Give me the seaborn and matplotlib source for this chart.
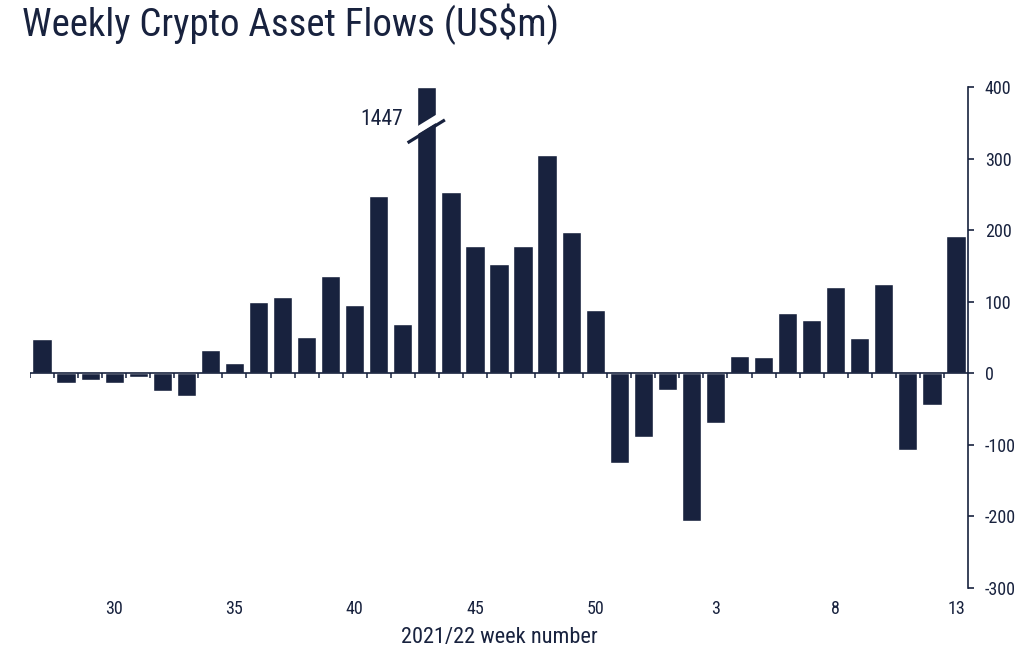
import numpy as np
import pandas as pd
import matplotlib
matplotlib.use("Agg")
import matplotlib.pyplot as plt
import seaborn as sns

# weekly flows, US$m (week 43 of 2021 goes off the scale)
weeks = list(range(27, 53)) + list(range(1, 14))
flows = [48, -13, -10, -13, -5, -25, -32, 33, 15, 100,
         106, 50, 136, 96, 247, 69, 1447, 253, 178, 152,
         178, 305, 197, 88, -126, -89, -24, -206, -70, 24,
         23, 84, 74, 120, 49, 125, -107, -45, 192]
tick_weeks = [30, 35, 40, 45, 50, 3, 8, 13]
y_ticks = [400, 300, 200, 100, 0, -100, -200, -300]
y_cap = 400

navy = "#18223e"

sns.set_theme(style="white")
plt.rcParams["font.family"] = ["Roboto Condensed", "Roboto", "DejaVu Sans"]
plt.rcParams["axes.unicode_minus"] = False

df = pd.DataFrame({"week": [str(w) for w in weeks],
                   "flow": np.minimum(flows, y_cap)})

fig = plt.figure(figsize=(10.24, 6.51), dpi=100)
ax = fig.add_axes([0.0293, 0.0968, 0.916, 0.7696])

sns.barplot(data=df, x="week", y="flow", order=df["week"], color=navy,
            saturation=1, width=0.8, ax=ax)

n = len(weeks)
ax.set_xlim(-0.5, n - 0.5)
ax.set_ylim(-300, 400)

# zero line with little ticks between bars
ax.axhline(0, color=navy, lw=1.2, zorder=3)
ax.vlines(np.arange(n) - 0.5, -7, 0, color=navy, lw=1.1, zorder=3)

# axes / ticks
for s in ["left", "top", "bottom"]:
    ax.spines[s].set_visible(False)
ax.spines["right"].set_color(navy)
ax.spines["right"].set_linewidth(1.2)
ax.yaxis.tick_right()
ax.set_yticks(y_ticks)
ax.tick_params(axis="y", right=True, length=4, width=1.2, color=navy,
               labelcolor=navy, labelsize=13, pad=8)
pos = [weeks.index(w) for w in tick_weeks]
ax.set_xticks(pos)
ax.set_xticklabels([str(w) for w in tick_weeks])
ax.tick_params(axis="x", length=0, labelcolor=navy, labelsize=13, pad=9)
ax.set_xlabel("2021/22 week number", color=navy, fontsize=16, labelpad=6)
ax.set_ylabel("")

# axis break on the off-scale bar
big = int(np.argmax(flows))
bx = np.array([big - 0.8, big + 0.75])
by = np.array([322, 354])
ax.plot(bx, by + 9, color="white", lw=5, solid_capstyle="butt", zorder=4)
ax.plot(bx, by, color=navy, lw=2.3, solid_capstyle="butt", zorder=5)
ax.text(big - 1.0, 354, f"{flows[big]}", ha="right", va="center",
        color=navy, fontsize=15.5)

fig.text(0.021, 0.962, "Weekly Crypto Asset Flows (US$m)", ha="left",
         va="center", color=navy, fontsize=28)

fig.savefig("out.png", dpi=100)
